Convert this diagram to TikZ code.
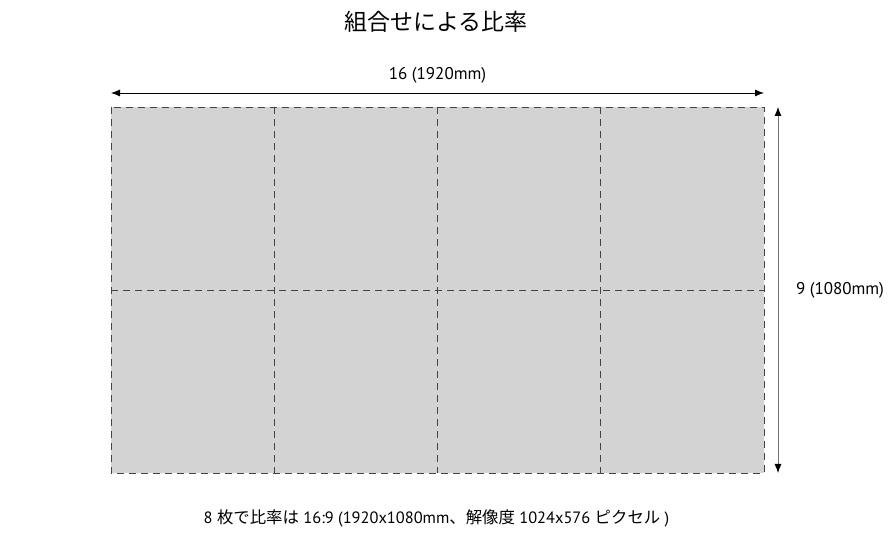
\documentclass[tikz,border=0pt]{standalone}
\usepackage{fontspec}
\setmainfont{PT Sans}
\newfontfamily\jp{Noto Sans CJK JP}
\usetikzlibrary{arrows.meta}
\definecolor{panelgray}{HTML}{D3D3D3}
\definecolor{edgegray}{HTML}{444444}

\begin{document}
\begin{tikzpicture}[x=1pt, y=1pt]
			%%%%% START %%%%%
			\useasboundingbox (0, 0) rectangle (888, 556);
			
			\node (title) at (436, 534) {\fontsize{23}{27}\selectfont\jp 組合せによる比率};
			
			\coordinate (tl) at (111, 449);
			\coordinate (br) at (764, 83);
			\fill[panelgray] (tl) rectangle (br);
			
			\draw[edgegray, dash pattern=on 7pt off 5pt] (274, 449) -- (274, 83);
			\draw[edgegray, dash pattern=on 7pt off 5pt] (437, 449) -- (437, 83);
			\draw[edgegray, dash pattern=on 7pt off 5pt] (600, 449) -- (600, 83);
			\draw[edgegray, dash pattern=on 7pt off 5pt] (111, 266) -- (764, 266);
			\draw[edgegray, dash pattern=on 7pt off 5pt] (tl) rectangle (br);
			
			\coordinate (wl) at (111, 463);
			\coordinate (wr) at (764, 463);
			\draw[line width=0.8pt, {Latex[length=9pt, width=7pt]}-{Latex[length=9pt, width=7pt]}] (wl) -- (wr);
			\node (width) at (437.5, 481) {\fontsize{17}{20}\selectfont 16 (1920mm)};
			
			\coordinate (ht) at (778, 449);
			\coordinate (hb) at (778, 83);
			\draw[line width=0.8pt, color=black!55, {Latex[length=9pt, width=7pt, black]}-{Latex[length=9pt, width=7pt, black]}] (ht) -- (hb);
			\node (height) at (840, 266) {\fontsize{17}{20}\selectfont 9 (1080mm)};
			
			\node (caption) at (436.5, 38) {\fontsize{16.4}{20}\selectfont 8 {\jp 枚で比率は} 16:9 (1920x1080mm{\jp 、解像度} 1024x576 {\jp ピクセル} )};
			%%%%% END %%%%%
\end{tikzpicture}
\end{document}
